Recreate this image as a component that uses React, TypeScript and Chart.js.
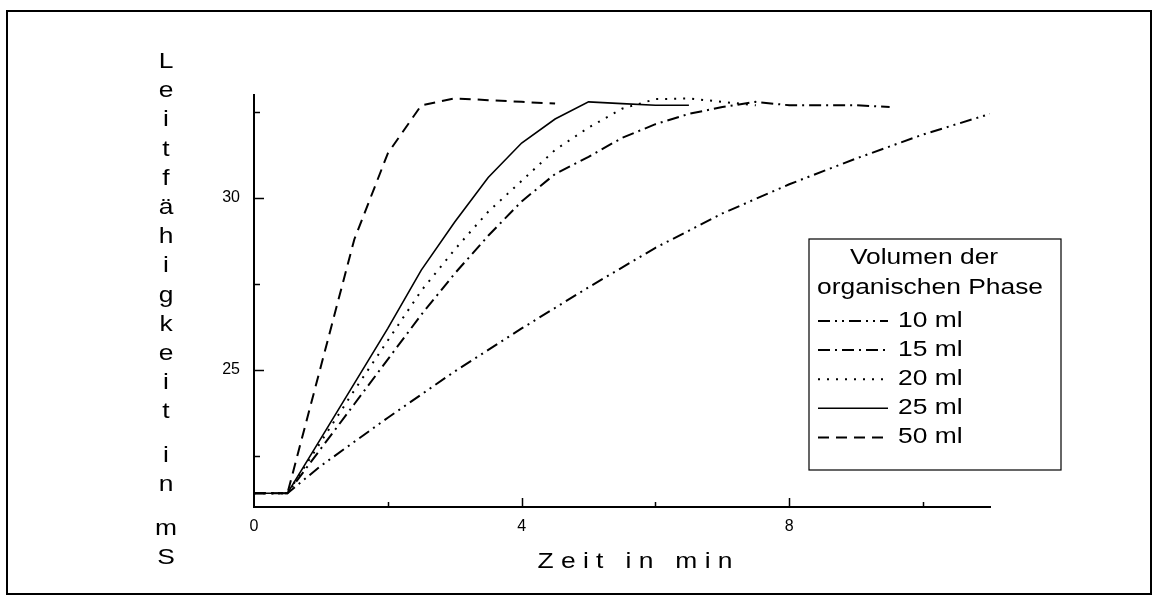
import React, { useEffect, useRef } from 'react';
import { Chart, registerables } from 'chart.js';

Chart.register(...registerables);

// ---- data ----
const seriesLabels = ['10 ml', '15 ml', '20 ml', '25 ml', '50 ml'];

const time10 = [0, 0.5, 1, 2, 3, 4, 5, 6, 7, 8, 9, 10, 11];
const cond10 = [21.4, 21.4, 22.2, 23.6, 24.95, 26.2, 27.4, 28.55, 29.55, 30.4, 31.15, 31.85, 32.45];

const time15 = [0, 0.5, 1, 1.5, 2, 2.5, 3, 3.5, 4, 4.5, 5, 5.5, 6, 6.5, 7, 7.5, 8, 8.5, 9, 9.5];
const cond15 = [21.4, 21.4, 22.7, 24.0, 25.3, 26.6, 27.8, 28.9, 29.9, 30.7, 31.2, 31.75, 32.15, 32.45, 32.65, 32.8, 32.7, 32.7, 32.7, 32.65];

const time20 = [0, 0.5, 1, 1.5, 2, 2.5, 3, 3.5, 4, 4.5, 5, 5.5, 6, 6.5, 7, 7.5];
const cond20 = [21.4, 21.4, 22.9, 24.4, 25.85, 27.3, 28.5, 29.6, 30.5, 31.4, 32.05, 32.6, 32.88, 32.9, 32.8, 32.7];

const time25 = [0, 0.5, 1, 1.5, 2, 2.5, 3, 3.5, 4, 4.5, 5, 5.5, 6, 6.5];
const cond25 = [21.4, 21.4, 23.0, 24.6, 26.2, 27.9, 29.3, 30.6, 31.6, 32.3, 32.8, 32.75, 32.7, 32.7];

const time50 = [0, 0.5, 1, 1.5, 2, 2.5, 3, 3.5, 4, 4.5];
const cond50 = [21.4, 21.4, 25.1, 28.8, 31.3, 32.7, 32.9, 32.85, 32.8, 32.75];

const xLabeledTicks = ['0', '4', '8'];
const yLabeledTicks = ['25', '30'];
const legendTitle = ['Volumen der', 'organischen Phase'];
const xTitle = 'Zeit in min';
const yTitle = 'Leitfähigkeit in mS';

// ---- styles ----
const FONT = '"Liberation Sans", Arial, Helvetica, sans-serif';
const STRETCH = 1.2;
const dashes: number[][] = [
  [12, 5, 2, 5, 2, 5],
  [12, 5, 2, 5],
  [2, 7],
  [],
  [11, 7],
];
const widths = [2, 2, 2, 1.6, 2];

const toPoints = (xs: number[], ys: number[]) => xs.map((x, i) => ({ x, y: ys[i] }));

function stretchText(ctx: CanvasRenderingContext2D, text: string, x: number, y: number, align: CanvasTextAlign) {
  ctx.save();
  ctx.translate(x, y);
  ctx.scale(STRETCH, 1);
  ctx.textAlign = align;
  ctx.textBaseline = 'middle';
  ctx.fillText(text, 0, 0);
  ctx.restore();
}

const decorPlugin = {
  id: 'decor',
  afterDraw(chart: any) {
    const ctx: CanvasRenderingContext2D = chart.ctx;
    const xs = chart.scales.x;
    const ys = chart.scales.y;
    const area = chart.chartArea;
    ctx.save();
    ctx.strokeStyle = '#000';
    ctx.fillStyle = '#000';
    ctx.setLineDash([]);

    // outer frame
    ctx.lineWidth = 2;
    ctx.strokeRect(7, 11, 1144, 583);

    // inward ticks
    ctx.lineWidth = 1.5;
    xs.ticks.forEach((t: any) => {
      if (t.value === xs.min) return;
      const px = Math.round(xs.getPixelForValue(t.value)) + 0.5;
      const len = xLabeledTicks.includes(String(t.value)) ? 9 : 5;
      ctx.beginPath();
      ctx.moveTo(px, area.bottom);
      ctx.lineTo(px, area.bottom - len);
      ctx.stroke();
    });
    ys.ticks.forEach((t: any) => {
      const py = Math.round(ys.getPixelForValue(t.value)) + 0.5;
      const len = yLabeledTicks.includes(String(t.value)) ? 10 : 6;
      ctx.beginPath();
      ctx.moveTo(area.left, py);
      ctx.lineTo(area.left + len, py);
      ctx.stroke();
    });

    // x axis title
    ctx.font = `22px ${FONT}`;
    const spaced = xTitle.split(' ').map((w) => w.split('').join(' ')).join('   ');
    stretchText(ctx, spaced, 635, 562, 'center');

    // y axis title (stacked letters)
    let yy = 62;
    for (const ch of yTitle.split('')) {
      if (ch === ' ') {
        yy += 14.6;
        continue;
      }
      stretchText(ctx, ch, 166, yy, 'center');
      yy += 29.2;
    }

    // legend
    const bx = 809, by = 239, bw = 252, bh = 231;
    ctx.fillStyle = '#fff';
    ctx.fillRect(bx, by, bw, bh);
    ctx.lineWidth = 1.2;
    ctx.strokeStyle = '#000';
    ctx.strokeRect(bx, by, bw, bh);
    ctx.fillStyle = '#000';
    ctx.font = `22px ${FONT}`;
    stretchText(ctx, legendTitle[0], 924, 258, 'center');
    stretchText(ctx, legendTitle[1], 817, 288, 'left');
    chart.data.datasets.forEach((ds: any, i: number) => {
      const ry = 321 + i * 29.1;
      ctx.save();
      ctx.lineWidth = ds.borderWidth;
      ctx.setLineDash(ds.borderDash || []);
      ctx.beginPath();
      ctx.moveTo(818, ry);
      ctx.lineTo(888, ry);
      ctx.stroke();
      ctx.restore();
      stretchText(ctx, ds.label, 898, ry, 'left');
    });
    ctx.restore();
  },
};

export default function App() {
  const ref = useRef<HTMLCanvasElement | null>(null);

  useEffect(() => {
    document.body.style.margin = '0';
    const canvas = ref.current;
    if (!canvas) return;
    const sets = [
      toPoints(time10, cond10),
      toPoints(time15, cond15),
      toPoints(time20, cond20),
      toPoints(time25, cond25),
      toPoints(time50, cond50),
    ];
    const chart = new Chart(canvas, {
      type: 'line',
      data: {
        datasets: sets.map((data, i) => ({
          label: seriesLabels[i],
          data,
          borderColor: '#000',
          backgroundColor: '#000',
          borderWidth: widths[i],
          borderDash: dashes[i],
          pointRadius: 0,
          tension: 0,
          fill: false,
        })),
      },
      options: {
        animation: false,
        responsive: false,
        devicePixelRatio: 1,
        layout: { padding: { left: 0, top: 95, right: 162, bottom: 0 } },
        plugins: { legend: { display: false }, tooltip: { enabled: false } },
        scales: {
          x: {
            type: 'linear',
            min: 0,
            max: 11,
            grid: { display: false, drawTicks: false },
            border: { display: true, color: '#000', width: 2 },
            afterFit: (s: any) => { s.height = 88; },
            ticks: {
              stepSize: 2,
              includeBounds: false,
              autoSkip: false,
              maxRotation: 0,
              padding: 10,
              color: '#000',
              font: { family: FONT, size: 16 },
              callback: (v: any) => (xLabeledTicks.includes(String(v)) ? String(v) : ''),
            },
          },
          y: {
            type: 'linear',
            min: 21,
            max: 33,
            grid: { display: false, drawTicks: false },
            border: { display: true, color: '#000', width: 2 },
            afterFit: (s: any) => { s.width = 254; },
            ticks: {
              stepSize: 2.5,
              includeBounds: false,
              autoSkip: false,
              padding: 14,
              color: '#000',
              font: { family: FONT, size: 16 },
              callback: (v: any) => (yLabeledTicks.includes(String(v)) ? String(v) : ''),
            },
          },
        },
      },
      plugins: [decorPlugin],
    });
    return () => chart.destroy();
  }, []);

  return (
    <div style={{ position: 'fixed', left: 0, top: 0, width: 1152, height: 595, background: '#fff' }}>
      <canvas ref={ref} width={1152} height={595} style={{ width: 1152, height: 595, display: 'block' }} />
    </div>
  );
}
